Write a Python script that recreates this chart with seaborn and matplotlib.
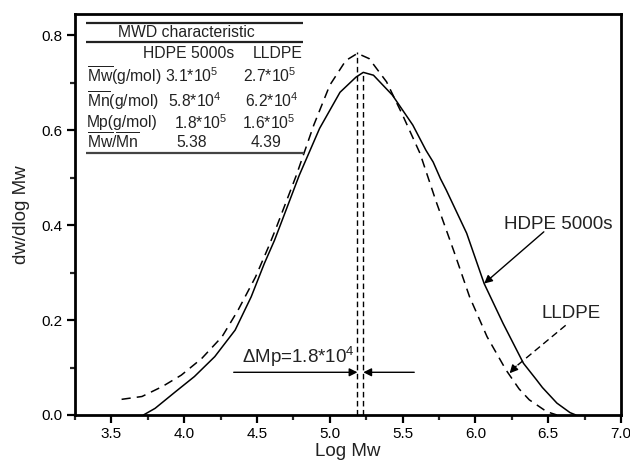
import matplotlib
matplotlib.use("Agg")
import matplotlib.pyplot as plt
from matplotlib.ticker import MultipleLocator
import seaborn as sns
import pandas as pd

# ---- data ----
hdpe_x = [3.72, 3.80, 3.94, 4.07, 4.21, 4.35, 4.46, 4.55, 4.62, 4.66, 4.79, 4.93,
          5.07, 5.18, 5.23, 5.30, 5.43, 5.57, 5.66, 5.71, 5.76, 5.80, 5.94, 6.06,
          6.19, 6.33, 6.42, 6.46, 6.56, 6.65, 6.69]
hdpe_y = [0.0, 0.014, 0.049, 0.081, 0.123, 0.179, 0.249, 0.319, 0.368, 0.40, 0.505, 0.604,
          0.68, 0.712, 0.722, 0.716, 0.674, 0.611, 0.558, 0.533, 0.498, 0.474, 0.383, 0.277,
          0.193, 0.109, 0.074, 0.058, 0.025, 0.005, 0.0]
lldpe_x = [3.57, 3.71, 3.85, 3.98, 4.12, 4.26, 4.37, 4.49, 4.58, 4.63, 4.77, 4.89,
           5.00, 5.11, 5.19, 5.27, 5.39, 5.50, 5.62, 5.73, 5.85, 5.96, 6.08, 6.21,
           6.30, 6.37, 6.49, 6.56]
lldpe_y = [0.033, 0.039, 0.060, 0.084, 0.119, 0.165, 0.221, 0.291, 0.355, 0.393, 0.505, 0.611,
           0.695, 0.747, 0.762, 0.751, 0.702, 0.632, 0.551, 0.450, 0.347, 0.249, 0.165, 0.095,
           0.055, 0.032, 0.007, 0.0]
peak_x = [5.19, 5.23]
peak_y = [0.765, 0.722]

x_ticks = [3.5, 4.0, 4.5, 5.0, 5.5, 6.0, 6.5, 7.0]
y_ticks = [0.0, 0.2, 0.4, 0.6, 0.8]

table_title = "MWD characteristic"
table_cols = ["HDPE 5000s", "LLDPE"]
table_rows = [r"$\overline{\mathrm{Mw}}$(g/mol)", r"$\overline{\mathrm{Mn}}$(g/mol)",
              "Mp(g/mol)", r"$\overline{\mathrm{Mw}}$/$\overline{\mathrm{Mn}}$"]
table_hdpe = [r"3.1*10$^{5}$", r"5.8*10$^{4}$", r"1.8*10$^{5}$", "5.38"]
table_lldpe = [r"2.7*10$^{5}$", r"6.2*10$^{4}$", r"1.6*10$^{5}$", "4.39"]

# ---- style ----
sns.set_theme(style="ticks")
plt.rcParams["font.family"] = ["Liberation Sans", "DejaVu Sans"]
plt.rcParams["mathtext.fontset"] = "custom"
plt.rcParams["mathtext.rm"] = "Liberation Sans"
plt.rcParams["mathtext.it"] = "Liberation Sans:italic"
plt.rcParams["mathtext.bf"] = "Liberation Sans:bold"

fig = plt.figure(figsize=(6.3, 4.68), dpi=100)
ax = fig.add_axes([75 / 630, 53 / 468, 546 / 630, 401 / 468])

df_h = pd.DataFrame({"x": hdpe_x, "y": hdpe_y})
df_l = pd.DataFrame({"x": lldpe_x, "y": lldpe_y})
sns.lineplot(data=df_h, x="x", y="y", ax=ax, color="black", lw=1.1, sort=False)
sns.lineplot(data=df_l, x="x", y="y", ax=ax, color="black", lw=1.1, sort=False,
             linestyle=(0, (6, 4)))

ax.vlines(peak_x, 0, peak_y, colors="black", lw=1.0, linestyles=(0, (4, 2.5)))

ax.set_xlim(3.25, 7.0)
ax.set_ylim(0, 0.845)
ax.set_xticks(x_ticks)
ax.set_yticks(y_ticks)
ax.set_xticklabels([f"{v:.1f}" for v in x_ticks])
ax.set_yticklabels([f"{v:.1f}" for v in y_ticks])
ax.xaxis.set_minor_locator(MultipleLocator(0.25))
ax.yaxis.set_minor_locator(MultipleLocator(0.1))
ax.tick_params(which="major", direction="out", length=6, width=1.6, labelsize=11,
               colors="black", pad=3)
ax.tick_params(which="minor", direction="out", length=3.5, width=1.6)
ax.tick_params(top=False, right=False, which="both")
for s in ax.spines.values():
    s.set_linewidth(2.0)
    s.set_color("black")
    s.set_visible(True)

ax.set_xlabel("Log Mw", fontsize=13.5, labelpad=1, color="#222222")
ax.set_ylabel("dw/dlog Mw", fontsize=13.5, labelpad=8, color="#222222")

# ---- table in upper left ----
tc = "#222222"
tfs = 11.3
ax.hlines([0.826, 0.786], 3.325, 4.815, colors="#222222", lw=1.6)
ax.hlines([0.552], 3.325, 4.82, colors="#444444", lw=1.6)
ax.text(4.012, 0.805, table_title, ha="center", va="center", fontsize=tfs, color=tc)
ax.text(4.03, 0.761, table_cols[0], ha="center", va="center", fontsize=tfs, color=tc)
ax.text(4.64, 0.761, table_cols[1], ha="center", va="center", fontsize=tfs, color=tc)
row_y = [0.716, 0.663, 0.617, 0.575]
hx = [4.05, 4.07, 4.11, 4.05]
lx = [4.59, 4.60, 4.58, 4.56]
for i in range(4):
    ax.text(3.33, row_y[i], table_rows[i], ha="left", va="center", fontsize=tfs, color=tc)
    ax.text(hx[i], row_y[i], table_hdpe[i], ha="center", va="center", fontsize=tfs, color=tc)
    ax.text(lx[i], row_y[i], table_lldpe[i], ha="center", va="center", fontsize=tfs, color=tc)

# ---- delta Mp annotation ----
ax.annotate("", xy=(5.19, 0.09), xytext=(4.34, 0.09),
            arrowprops=dict(arrowstyle="-|>", color="black", lw=1.0,
                            mutation_scale=12, shrinkA=0, shrinkB=0))
ax.annotate("", xy=(5.23, 0.09), xytext=(5.58, 0.09),
            arrowprops=dict(arrowstyle="-|>", color="black", lw=1.0,
                            mutation_scale=12, shrinkA=0, shrinkB=0))
ax.text(4.40, 0.097, "\u0394Mp=1.8*10$^{4}$", ha="left", va="bottom",
        fontsize=13.5, color=tc)

# ---- curve labels ----
ax.text(6.57, 0.402, "HDPE 5000s", ha="center", va="center", fontsize=13.5, color=tc)
ax.annotate("", xy=(6.06, 0.277), xytext=(6.47, 0.386),
            arrowprops=dict(arrowstyle="-|>", color="black", lw=1.0,
                            mutation_scale=12, shrinkA=0, shrinkB=0))
ax.text(6.66, 0.213, "LLDPE", ha="center", va="center", fontsize=13.5, color=tc)
ax.plot([6.62, 6.27], [0.189, 0.100], color="black", lw=1.0, linestyle=(0, (5, 3)))
ax.annotate("", xy=(6.235, 0.088), xytext=(6.28, 0.103),
            arrowprops=dict(arrowstyle="-|>", color="black", lw=1.0,
                            mutation_scale=12, shrinkA=0, shrinkB=0))

fig.savefig("out.png", dpi=100)
